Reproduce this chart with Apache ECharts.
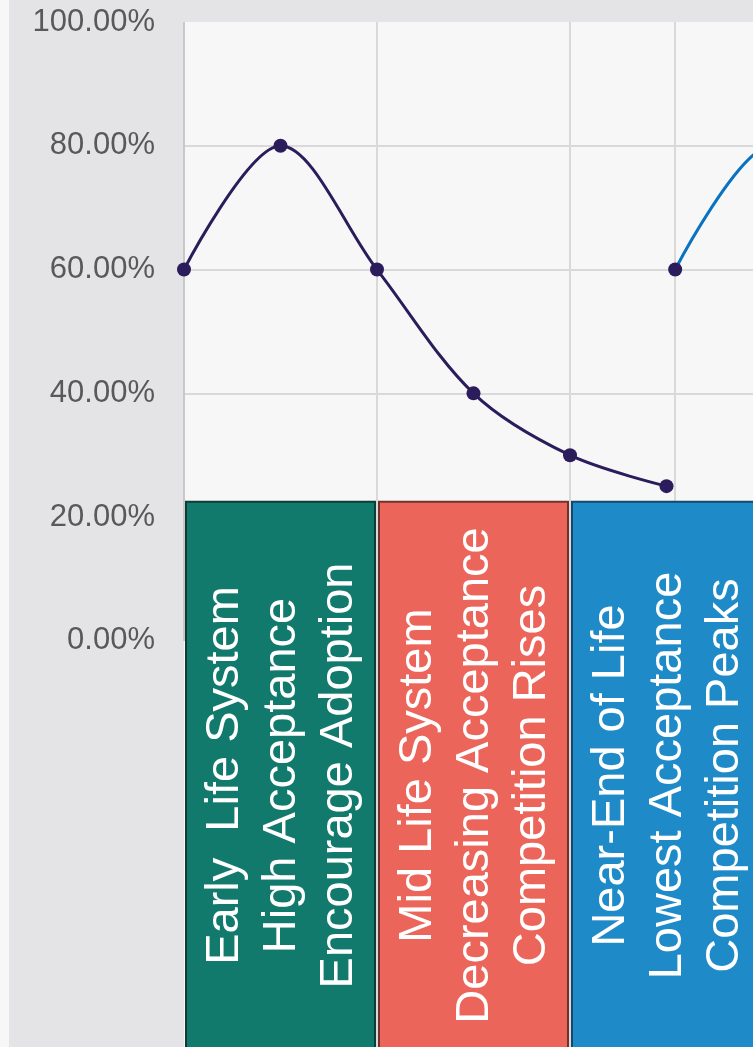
<!DOCTYPE html>
<html>
<head>
<meta charset="utf-8">
<script src="https://cdn.jsdelivr.net/npm/echarts@6/dist/echarts.min.js"></script>
<style>
  html, body { margin: 0; padding: 0; background: #f7f7f7; }
  #chart { width: 753px; height: 1047px; }
</style>
</head>
<body>
<div id="chart"></div>
<script>
// Acceptance (%) through the system life cycle
const cyclePositions = [0, 1, 2, 3, 4, 5];
const acceptance = [60, 80, 60, 40, 30, 25];

// Start of the following cycle
const nextCyclePositions = [5.09, 6.09, 7.09];
const nextAcceptance = [60, 80, 60];

// Y-axis tick values (percent)
const yTicks = [0, 20, 40, 60, 80, 100];

// Life-cycle stages and their spans along the x axis
const stageNames = [
  'Early  Life System\nHigh Acceptance\nEncourage Adoption',
  'Mid Life System\nDecreasing Acceptance\nCompetition Rises',
  'Near-End of Life\nLowest Acceptance\nCompetition Peaks'
];
const stageStart = [0, 2, 4];
const stageEnd = [2, 4, 6];

// Styling
const FONT = '"Liberation Sans", Arial, Helvetica, sans-serif';
const NAVY = '#2b1d5c';
const BLUE = '#0b72c1';
const GRID_COLOR = '#d9d9d9';
const STAGE_FILL = ['#12796d', '#ec655a', '#1e8ac8'];
const STAGE_STROKE = ['#0c3d36', '#74302b', '#114a6c'];
const STAGE_TOP = 22.5;
const STAGE_BOTTOM = -66;
const DIVIDERS = [2, 4, 5.09];
const SMOOTH = 0.33;

const chart = echarts.init(document.getElementById('chart'), null, { renderer: 'canvas' });

chart.setOption({
  animation: false,
  backgroundColor: '#e4e4e6',
  graphic: [
    { type: 'rect', left: 0, top: 0, shape: { width: 9, height: 1047 }, style: { fill: '#f7f7f7' }, silent: true }
  ],
  grid: {
    left: 184, top: 22, right: -203, bottom: -89,
    outerBoundsMode: 'none',
    containLabel: false,
    show: true, backgroundColor: '#f7f7f7', borderWidth: 0
  },
  xAxis: {
    type: 'value', min: 0, max: 8,
    axisLine: { show: false },
    axisTick: { show: false, customValues: DIVIDERS },
    axisLabel: { show: false },
    splitLine: { show: true, lineStyle: { color: GRID_COLOR, width: 2 } }
  },
  yAxis: {
    type: 'value', min: -80, max: 100, interval: 20,
    axisLine: { show: false },
    axisTick: { show: false, customValues: [20, 40, 60, 80] },
    axisLabel: {
      customValues: yTicks,
      formatter: v => v.toFixed(2) + '%',
      fontSize: 31, color: '#595959', fontFamily: FONT, margin: 29
    },
    splitLine: { show: true, lineStyle: { color: GRID_COLOR, width: 2 } }
  },
  series: [
    {
      type: 'line',
      data: [],
      silent: true,
      z: 1,
      markLine: {
        silent: true,
        symbol: 'none',
        z: 1,
        label: { show: false },
        lineStyle: { color: '#c8c8c8', width: 2, type: 'solid' },
        data: [[{ coord: [0, 0] }, { coord: [0, 100] }]]
      }
    },
    {
      type: 'line',
      data: cyclePositions.map((x, i) => [x, acceptance[i]]),
      smooth: SMOOTH,
      symbol: 'circle',
      symbolSize: 14,
      showAllSymbol: true,
      lineStyle: { color: NAVY, width: 3 },
      itemStyle: { color: NAVY },
      z: 4
    },
    {
      type: 'line',
      data: nextCyclePositions.map((x, i) => [x, nextAcceptance[i]]),
      smooth: SMOOTH,
      symbol: 'circle',
      symbolSize: 14,
      showAllSymbol: true,
      lineStyle: { color: BLUE, width: 3 },
      itemStyle: { color: NAVY },
      z: 4
    },
    {
      type: 'custom',
      clip: false,
      z: 5,
      data: stageNames.map((n, i) => [stageStart[i], stageEnd[i], i]),
      renderItem(params, api) {
        const i = api.value(2);
        const tl = api.coord([api.value(0), STAGE_TOP]);
        const br = api.coord([api.value(1), STAGE_BOTTOM]);
        const x = tl[0] + 2;
        const w = br[0] - tl[0] - 4;
        const y = tl[1];
        const h = br[1] - tl[1];
        return {
          type: 'group',
          children: [
            {
              type: 'rect',
              shape: { x: x, y: y, width: w, height: h },
              style: { fill: STAGE_FILL[i], stroke: STAGE_STROKE[i], lineWidth: 2 }
            },
            {
              type: 'text',
              x: x + w / 2 + 2,
              y: y + h / 2,
              rotation: Math.PI / 2,
              style: {
                text: stageNames[i],
                fill: '#ffffff',
                font: '47px ' + FONT,
                align: 'center',
                verticalAlign: 'middle',
                lineHeight: 57
              }
            }
          ]
        };
      }
    }
  ]
});
</script>
</body>
</html>
